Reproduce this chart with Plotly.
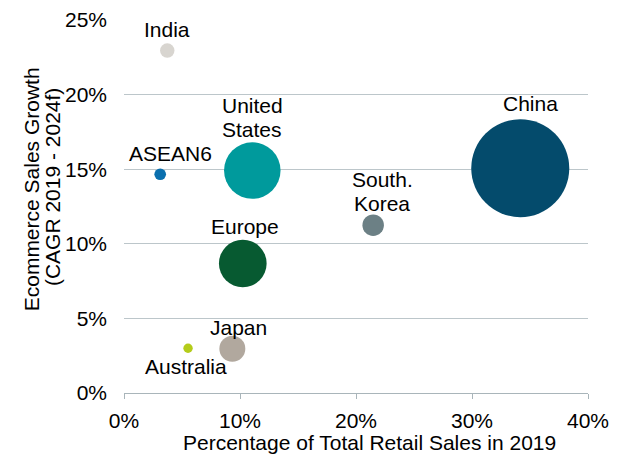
import math
import plotly.graph_objects as go

# ---- data ----
regions = ["China", "United States", "Europe", "Japan", "South Korea", "India", "ASEAN6", "Australia"]
label_lines = [["China"], ["United", "States"], ["Europe"], ["Japan"], ["South.", "Korea"],
               ["India"], ["ASEAN6"], ["Australia"]]
retail_share = [34.16, 11.06, 10.24, 9.34, 21.48, 3.73, 3.12, 5.52]      # % of total retail sales 2019
ecom_growth = [15.07, 14.91, 8.68, 2.97, 11.25, 22.95, 14.66, 3.0]       # CAGR 2019-2024f, %
ecom_sales = [1935, 643, 458, 136, 93, 42, 27.6, 17.8]                   # bubble size (ecommerce sales)
x_ticks = [0, 10, 20, 30, 40]
x_tick_labels = ["0%", "10%", "20%", "30%", "40%"]
y_ticks = [0, 5, 10, 15, 20, 25]
y_tick_labels = ["0%", "5%", "10%", "15%", "20%", "25%"]

# ---- style ----
colors = ["#044B6C", "#009A9C", "#075A31", "#B1A89E", "#6C8085", "#D8D5D0", "#0A6FAE", "#B4CC1A"]
label_below = [False, False, False, False, False, False, False, True]
label_dx = [10, 0, 2, 6, 9, 0, 10, -2]
label_dy = [2, -1, 0, -5, -3, 0, 1, -0.3]
LINE_GAP = 24
FONT = "Liberation Sans, Arial, sans-serif"
FS = 21
MAX_D = 98
sizeref = 2 * max(ecom_sales) / MAX_D ** 2

OFF = 8  # default page body margin
W, H = 620 - OFF, 457 - OFF
L, T = 124 - OFF, 20 - OFF
R = W - (588 - OFF)
B = H - (393.4 - OFF)
Y0 = 393.4  # page y of x-axis
X0 = 124    # page x of y-axis

fig = go.Figure()
fig.add_trace(go.Scatter(
    x=retail_share, y=ecom_growth, mode="markers",
    marker=dict(size=ecom_sales, sizemode="area", sizeref=sizeref,
                color=colors, opacity=1, line=dict(width=0)),
    hoverinfo="text", text=regions, showlegend=False, cliponaxis=False,
))

for i in range(len(regions)):
    r = math.sqrt(2 * ecom_sales[i] / sizeref) / 2
    lines = label_lines[i]
    n = len(lines)
    for k, line in enumerate(lines):
        if label_below[i]:
            fig.add_annotation(x=retail_share[i], y=ecom_growth[i], xref="x", yref="y",
                               text=line, showarrow=False, xanchor="center", yanchor="top",
                               xshift=label_dx[i], yshift=-(r + label_dy[i]) - k * LINE_GAP,
                               font=dict(family=FONT, size=FS, color="#000000"))
        else:
            fig.add_annotation(x=retail_share[i], y=ecom_growth[i], xref="x", yref="y",
                               text=line, showarrow=False, xanchor="center", yanchor="bottom",
                               xshift=label_dx[i], yshift=r + label_dy[i] + (n - 1 - k) * LINE_GAP,
                               font=dict(family=FONT, size=FS, color="#000000"))

# axis titles
fig.add_annotation(xref="paper", yref="paper", x=0, y=0, xshift=31.7 - X0, yshift=Y0 - 190,
                   text="Ecommerce Sales Growth", textangle=-90, showarrow=False,
                   xanchor="center", yanchor="middle", font=dict(family=FONT, size=FS, color="#000000"))
fig.add_annotation(xref="paper", yref="paper", x=0, y=0, xshift=52.5 - X0, yshift=Y0 - 188,
                   text="(CAGR 2019 - 2024f)", textangle=-90, showarrow=False,
                   xanchor="center", yanchor="middle", font=dict(family=FONT, size=FS, color="#000000"))
fig.add_annotation(xref="paper", yref="paper", x=0, y=0, xshift=369 - X0, yshift=-(443 - Y0),
                   text="Percentage of Total Retail Sales in 2019", showarrow=False,
                   xanchor="center", yanchor="middle", font=dict(family=FONT, size=FS, color="#000000"))

fig.update_xaxes(range=[0, 40], tickvals=x_ticks, ticktext=x_tick_labels, automargin=False,
                 showgrid=False, zeroline=False, showline=True, linecolor="#A9B5BA", linewidth=1.3,
                 ticks="outside", ticklen=5, tickcolor="#A9B5BA", tickwidth=1.3,
                 tickfont=dict(family=FONT, size=FS, color="#000000"), ticklabelstandoff=4)
fig.update_yaxes(range=[0, 25], tickvals=y_ticks, ticktext=y_tick_labels, automargin=False,
                 showgrid=True, gridcolor="#BCC6CA", gridwidth=1.3, zeroline=False, showline=False,
                 ticks="", tickfont=dict(family=FONT, size=FS, color="#000000"), ticklabelstandoff=16)

fig.update_layout(width=W, height=H, margin=dict(l=L, r=R, t=T, b=B, pad=0, autoexpand=False),
                  paper_bgcolor="#FFFFFF", plot_bgcolor="#FFFFFF",
                  font=dict(family=FONT, size=FS, color="#000000"))

fig.write_html("out.html")
